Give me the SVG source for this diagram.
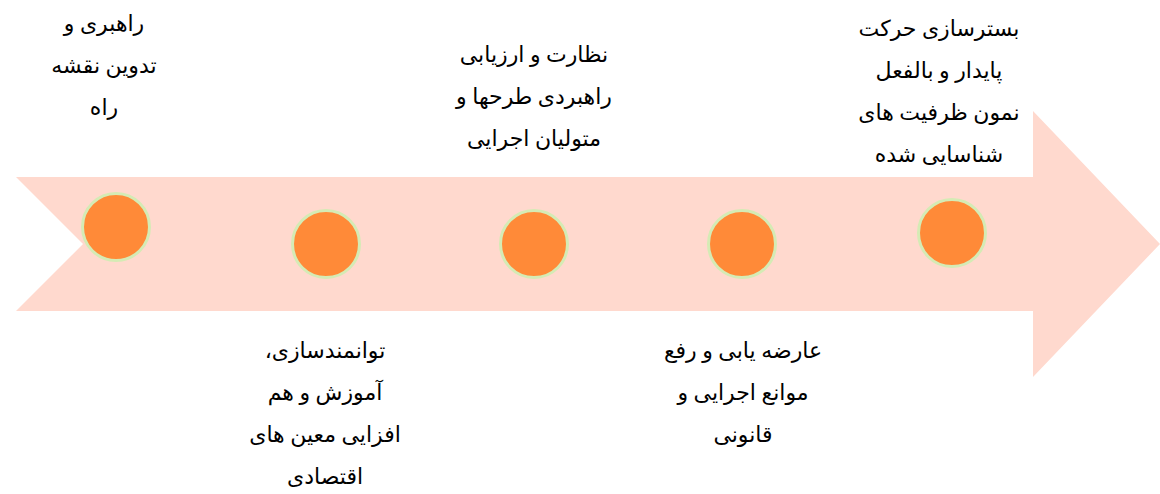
<svg xmlns="http://www.w3.org/2000/svg" width="1160" height="494" viewBox="0 0 1160 494">
<style>
.arrow{fill:#FFD9CE;stroke:none}
.dot{fill:#FF8A38;stroke:#D5EBB5;stroke-width:3}
.lbl{font-family:"Liberation Serif","DejaVu Serif","DejaVu Sans",serif;font-size:22px;fill:#000;text-anchor:middle;direction:rtl}
</style>
<rect width="1160" height="494" fill="#FFFFFF"/>
<g id="arrow">
<polygon class="arrow" points="16,177 1033,177 1033,111 1160,244 1033,377 1033,311 16,311 83,244"/>
</g>
<g id="connectors"></g>
<g id="node1">
<circle class="dot" cx="116" cy="227" r="33.5"/>
<text class="lbl" direction="rtl"><tspan x="104" y="31">راهبری و</tspan><tspan x="104" y="73">تدوین نقشه</tspan><tspan x="104" y="115">راه</tspan></text>
</g>
<g id="node2">
<circle class="dot" cx="326" cy="244" r="33.5"/>
<text class="lbl" direction="rtl"><tspan x="325" y="358">توانمندسازی،</tspan><tspan x="325" y="400">آموزش و هم</tspan><tspan x="325" y="442">افزایی معین های</tspan><tspan x="325" y="484">اقتصادی</tspan></text>
</g>
<g id="node3">
<circle class="dot" cx="534" cy="244" r="33.5"/>
<text class="lbl" direction="rtl"><tspan x="534" y="62">نظارت و ارزیابی</tspan><tspan x="534" y="104">راهبردی طرحها و</tspan><tspan x="534" y="146">متولیان اجرایی</tspan></text>
</g>
<g id="node4">
<circle class="dot" cx="742" cy="244" r="33.5"/>
<text class="lbl" direction="rtl"><tspan x="743" y="358">عارضه یابی و رفع</tspan><tspan x="743" y="400">موانع اجرایی و</tspan><tspan x="743" y="442">قانونی</tspan></text>
</g>
<g id="node5">
<circle class="dot" cx="952" cy="233" r="33.5"/>
<text class="lbl" direction="rtl"><tspan x="939" y="36">بسترسازی حرکت</tspan><tspan x="939" y="78">پایدار و بالفعل</tspan><tspan x="939" y="120">نمون ظرفیت های</tspan><tspan x="939" y="162">شناسایی شده</tspan></text>
</g>
</svg>
